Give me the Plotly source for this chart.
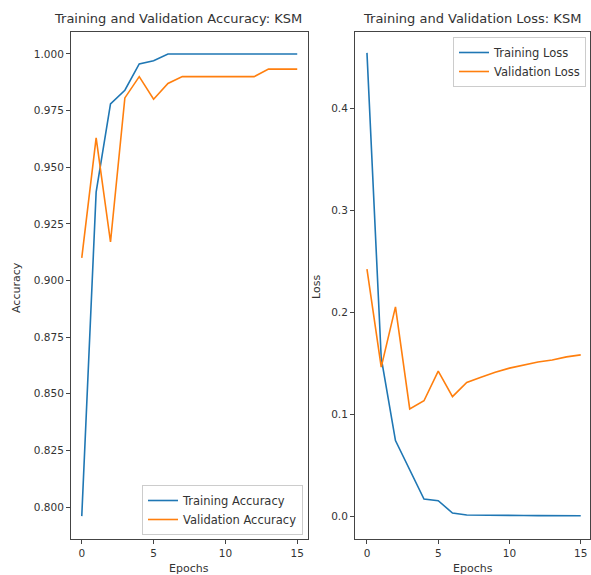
import plotly.graph_objects as go

epochs = list(range(16))
train_acc = [0.796, 0.939, 0.978, 0.984, 0.9956, 0.997, 1.0, 1.0, 1.0, 1.0, 1.0, 1.0, 1.0, 1.0, 1.0, 1.0]
val_acc = [0.910, 0.963, 0.917, 0.9806, 0.990, 0.980, 0.987, 0.990, 0.990, 0.990, 0.990, 0.990, 0.990, 0.9933, 0.9933, 0.9933]
train_loss = [0.454, 0.155, 0.074, 0.045, 0.0167, 0.015, 0.003, 0.001, 0.0007, 0.0006, 0.0005, 0.0005, 0.0004, 0.0004, 0.0004, 0.0003]
val_loss = [0.242, 0.146, 0.205, 0.105, 0.113, 0.142, 0.117, 0.131, 0.136, 0.141, 0.145, 0.148, 0.151, 0.153, 0.156, 0.158]

acc_ticks = [0.800, 0.825, 0.850, 0.875, 0.900, 0.925, 0.950, 0.975, 1.000]
loss_ticks = [0.0, 0.1, 0.2, 0.3, 0.4]
x_ticks = [0, 5, 10, 15]

BLUE = "#1f77b4"
ORANGE = "#ff7f0e"
FONT = "DejaVu Sans"
TXT = "#333333"

fig = go.Figure()
fig.add_trace(go.Scatter(x=epochs, y=train_acc, mode="lines", name="Training Accuracy",
                         line=dict(color=BLUE, width=1.6), xaxis="x", yaxis="y", legend="legend"))
fig.add_trace(go.Scatter(x=epochs, y=val_acc, mode="lines", name="Validation Accuracy",
                         line=dict(color=ORANGE, width=1.6), xaxis="x", yaxis="y", legend="legend"))
fig.add_trace(go.Scatter(x=epochs, y=train_loss, mode="lines", name="Training Loss",
                         line=dict(color=BLUE, width=1.6), xaxis="x2", yaxis="y2", legend="legend2"))
fig.add_trace(go.Scatter(x=epochs, y=val_loss, mode="lines", name="Validation Loss",
                         line=dict(color=ORANGE, width=1.6), xaxis="x2", yaxis="y2", legend="legend2"))

W, H = 591, 575
ydom = [1 - 539 / H, 1 - 32 / H]
axis_common = dict(showgrid=False, zeroline=False, showline=True, mirror=True,
                   linecolor="#444444", linewidth=1, ticks="outside", ticklen=4,
                   tickcolor="#444444", tickfont=dict(family=FONT, size=10.5, color=TXT))

fig.update_layout(
    width=W, height=H,
    margin=dict(l=0, r=0, t=0, b=0),
    paper_bgcolor="white", plot_bgcolor="white",
    xaxis=dict(domain=[71 / W, 308 / W], range=[-0.75, 15.75], tickvals=x_ticks,
               anchor="y", **axis_common),
    yaxis=dict(domain=ydom, range=[0.7859, 1.0097], tickvals=acc_ticks,
               ticktext=[f"{v:.3f}" for v in acc_ticks], anchor="x", **axis_common),
    xaxis2=dict(domain=[355 / W, 590 / W], range=[-0.84, 15.65], tickvals=x_ticks,
                anchor="y2", **axis_common),
    yaxis2=dict(domain=ydom, range=[-0.0225, 0.4745], tickvals=loss_ticks,
                ticktext=[f"{v:.1f}" for v in loss_ticks], anchor="x2", **axis_common),
    legend=dict(x=303 / W, y=1 - 535 / H, xanchor="right", yanchor="bottom",
                bgcolor="rgba(255,255,255,0.8)", bordercolor="#cccccc", borderwidth=1,
                font=dict(family=FONT, size=11.5, color=TXT), itemwidth=30,
                tracegroupgap=0),
    legend2=dict(x=586 / W, y=1 - 37 / H, xanchor="right", yanchor="top",
                 bgcolor="rgba(255,255,255,0.8)", bordercolor="#cccccc", borderwidth=1,
                 font=dict(family=FONT, size=11.5, color=TXT), itemwidth=30,
                 tracegroupgap=0),
    showlegend=True,
)

ann = dict(xref="paper", yref="paper", showarrow=False, font=dict(family=FONT, size=13, color=TXT))
fig.add_annotation(text="Training and Validation Accuracy: KSM", x=178 / W, y=1 - 19 / H,
                   xanchor="center", yanchor="middle", **ann)
fig.add_annotation(text="Training and Validation Loss: KSM", x=472 / W, y=1 - 19 / H,
                   xanchor="center", yanchor="middle", **ann)
ann2 = dict(xref="paper", yref="paper", showarrow=False, font=dict(family=FONT, size=11, color=TXT))
fig.add_annotation(text="Accuracy", x=16 / W, y=1 - 288 / H, textangle=-90,
                   xanchor="center", yanchor="middle", **ann2)
fig.add_annotation(text="Loss", x=316 / W, y=1 - 287 / H, textangle=-90,
                   xanchor="center", yanchor="middle", **ann2)
fig.add_annotation(text="Epochs", x=189 / W, y=1 - 568 / H,
                   xanchor="center", yanchor="middle", **ann2)
fig.add_annotation(text="Epochs", x=473 / W, y=1 - 568 / H,
                   xanchor="center", yanchor="middle", **ann2)

fig.write_html("out.html", config={"displayModeBar": False},
               post_script="document.body.style.margin='0';document.body.style.overflow='hidden';")
